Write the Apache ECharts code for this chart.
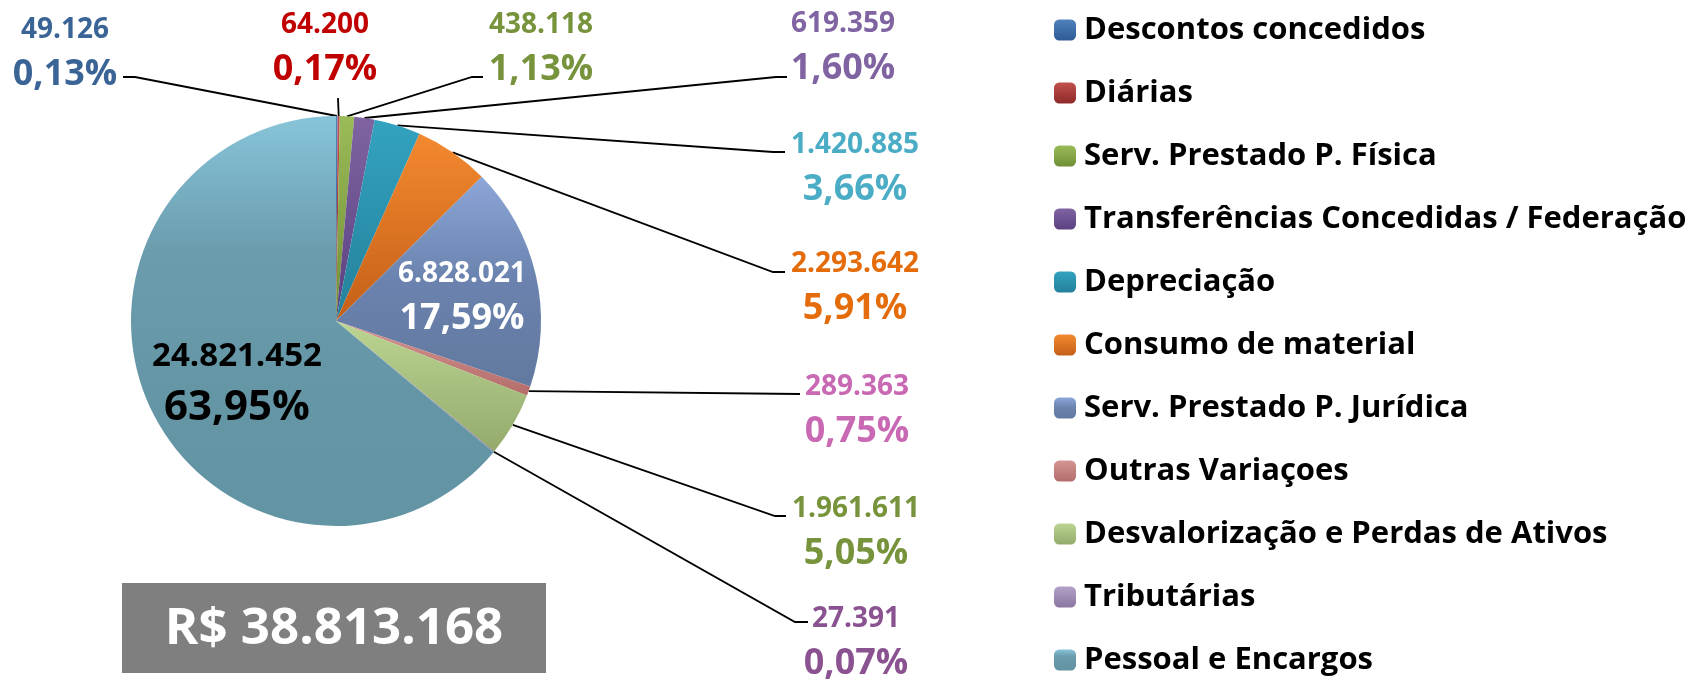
<!DOCTYPE html>
<html>
<head>
<meta charset="utf-8">
<script src="https://cdn.jsdelivr.net/npm/echarts@6/dist/echarts.min.js"></script>
<style>
	html, body { margin: 0; padding: 0; background: #fff; }
	#pieChart { width: 1692px; height: 680px; }
</style>
</head>
<body>
<div id="pieChart"></div>
<script>
var categories = ['Descontos concedidos', 'Diárias', 'Serv. Prestado P. Física', 'Transferências Concedidas / Federação', 'Depreciação', 'Consumo de material', 'Serv. Prestado P. Jurídica', 'Outras Variaçoes', 'Desvalorização e Perdas de Ativos', 'Tributárias', 'Pessoal e Encargos'];
var values = [49126, 64200, 438118, 619359, 1420885, 2293642, 6828021, 289363, 1961611, 27391, 24821452];

// slice gradients (top -> bottom) and label colours
var sliceColors = [
	['#4F81BD', '#2F5A94'],
	['#C0504D', '#8E2A28'],
	['#9BBB59', '#6F8F35'],
	['#8064A2', '#5A4080'],
	['#33A3C0', '#24809A'],
	['#F3892F', '#C45F17'],
	['#8BA6D8', '#6A82AD', '#6279A0'],
	['#D49592', '#B46C69'],
	['#BCD592', '#93AA6B'],
	['#B3A2C7', '#8A76A2'],
	['#88C4D9', '#6A9CAD', '#6596A6', '#6394A4']
];
var labelColors = ['#3A6396', '#C00000', '#77933C', '#8064A2', '#4BACC6', '#E46C0A', '#FFFFFF', '#C968B3', '#77933C', '#8A5290', '#000000'];

// where Excel put each label: centre x, value-line centre y, leader end, bend offset
var labelSpots = [
	{ x: 65, y: 30, ex: 123, ey: 77, bend: 12 },
	{ x: 325, y: 25, ex: 338, ey: 98, bend: 0 },
	{ x: 541, y: 25, ex: 483, ey: 77, bend: -11 },
	{ x: 843, y: 24, ex: 787, ey: 77, bend: -11 },
	{ x: 855, y: 145, ex: 785, ey: 152, bend: -12 },
	{ x: 855, y: 264, ex: 785, ey: 272, bend: -12 },
	{ x: 462, y: 274 },
	{ x: 857, y: 387, ex: 800, ey: 394, bend: 0 },
	{ x: 856, y: 509, ex: 786, ey: 516, bend: -11 },
	{ x: 856, y: 619, ex: 808, ey: 622, bend: -13 },
	{ x: 237, y: 357 }
];

var pieCenter = [336, 321];
var pieRadius = 205;

var total = values.reduce(function(a, b) { return a + b; }, 0);

function fmtNum(v) {
	return String(v).replace(/\B(?=(\d{3})+(?!\d))/g, '.');
}
function fmtPct(v) {
	return (v / total * 100).toFixed(2).replace('.', ',') + '%';
}
function gradient(cols) {
	var stops = cols.map(function(c, i) {
		return { offset: i / (cols.length - 1), color: c };
	});
	return new echarts.graphic.LinearGradient(0, 0, 0, 1, stops);
}
// point on the outer arc at the middle of slice i
function arcPoint(i) {
	var before = 0;
	for (var k = 0; k < i; k++) before += values[k];
	var mid = (before + values[i] / 2) / total * Math.PI * 2;
	return [pieCenter[0] + pieRadius * Math.sin(mid), pieCenter[1] - pieRadius * Math.cos(mid)];
}

var insideIdx = [6, 10];

var pieData = categories.map(function(name, i) {
	var item = {
		name: name,
		value: values[i],
		itemStyle: { color: gradient(sliceColors[i]) },
		label: { color: labelColors[i] }
	};
	if (insideIdx.indexOf(i) >= 0) {
		item.label.position = 'inside';
		item.labelLine = { show: false };
	}
	if (i === 10) {
		item.label.rich = {
			v: { fontSize: 33, lineHeight: 48, fontWeight: 'bold', fontFamily: 'Open Sans' },
			p: { fontSize: 42, lineHeight: 54, fontWeight: 'bold', fontFamily: 'Open Sans' }
		};
	}
	return item;
});

var myChart = echarts.init(document.getElementById('pieChart'), null, { renderer: 'canvas' });

var option = {
	animation: false,
	backgroundColor: '#ffffff',
	textStyle: { fontFamily: 'Open Sans' },
	legend: {
		orient: 'vertical',
		left: 1054,
		top: 14,
		padding: 0,
		height: 666,
		itemWidth: 22,
		itemHeight: 21,
		itemGap: 31,
		selectedMode: false,
		data: categories,
		textStyle: {
			fontFamily: 'Open Sans',
			fontWeight: 'bold',
			fontSize: 31,
			lineHeight: 32,
			color: '#000',
			padding: [0, 0, 0, 3]
		}
	},
	graphic: [{
		type: 'group',
		left: 122,
		top: 583,
		children: [{
			type: 'rect',
			shape: { x: 0, y: 0, width: 424, height: 90 },
			style: { fill: '#7F7F7F' }
		}, {
			type: 'text',
			x: 212,
			y: 46,
			style: {
				text: 'R$ ' + fmtNum(total),
				fill: '#fff',
				font: 'bold 51px "Open Sans"',
				textAlign: 'center',
				textVerticalAlign: 'middle'
			}
		}]
	}],
	series: [{
		type: 'pie',
		center: pieCenter,
		radius: pieRadius,
		startAngle: 90,
		clockwise: true,
		avoidLabelOverlap: false,
		minAngle: 0,
		itemStyle: { borderWidth: 0 },
		label: {
			show: true,
			position: 'outside',
			fontFamily: 'Open Sans',
			fontWeight: 'bold',
			formatter: function(p) {
				return '{v|' + fmtNum(p.value) + '}\n{p|' + fmtPct(p.value) + '}';
			},
			rich: {
				v: { fontSize: 28, lineHeight: 44, fontWeight: 'bold', fontFamily: 'Open Sans' },
				p: { fontSize: 36, lineHeight: 46, fontWeight: 'bold', fontFamily: 'Open Sans' }
			}
		},
		labelLine: {
			show: true,
			length: 10,
			length2: 10,
			lineStyle: { color: '#000', width: 1.8 }
		},
		labelLayout: function(params) {
			var i = params.dataIndex;
			var s = labelSpots[i];
			var half = i === 10 ? 24 : 22;
			var out = { x: s.x, y: s.y - half, align: 'center', verticalAlign: 'top' };
			if (s.ex != null) {
				var a = arcPoint(i);
				out.labelLinePoints = [a, [s.ex + s.bend, s.ey], [s.ex, s.ey]];
			}
			return out;
		},
		emphasis: { disabled: true },
		data: pieData
	}]
};

myChart.setOption(option);
</script>
</body>
</html>
